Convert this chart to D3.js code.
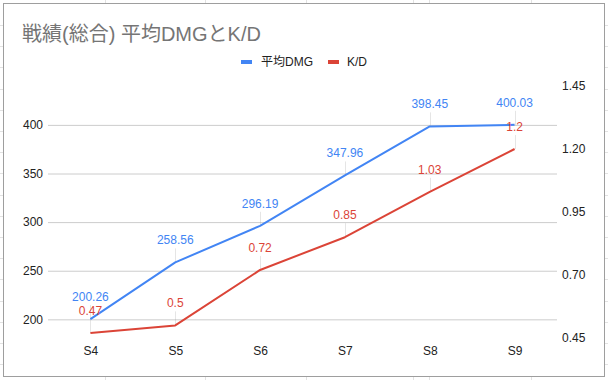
<!DOCTYPE html>
<html><head><meta charset="utf-8">
<script src="https://cdn.jsdelivr.net/npm/d3@7/dist/d3.min.js"></script>
<style>
html,body{margin:0;padding:0;background:#fff;}
svg{display:block;font-family:"Liberation Sans",Arial,"Noto Sans CJK JP",sans-serif;}
</style></head>
<body><svg id="c" width="608" height="380"></svg>
<script>
const title = "戦績(総合) 平均DMGとK/D";
const categories = ["S4","S5","S6","S7","S8","S9"];
const avgDmg = [200.26, 258.56, 296.19, 347.96, 398.45, 400.03];
const kd = [0.47, 0.5, 0.72, 0.85, 1.03, 1.2];
const seriesNames = ["平均DMG", "K/D"];
const leftTicks = [200, 250, 300, 350, 400];
const rightTicks = [0.45, 0.70, 0.95, 1.20, 1.45];
const colors = ["#4285f4", "#db4437"];

const FONT = '"Liberation Sans",Arial,"Noto Sans CJK JP",sans-serif';
const svg = d3.select("#c");
const W = 608, H = 380;
const plot = {l: 48, r: 557, t: 86, b: 338};

// spreadsheet background grid outside the chart
const bg = svg.append("g").attr("stroke", "#e2e2e2").attr("stroke-width", 1);
[105, 205, 306, 413, 429, 531].forEach(x => {
  bg.append("line").attr("x1", x + .5).attr("x2", x + .5).attr("y1", 0).attr("y2", 3);
  bg.append("line").attr("x1", x + .5).attr("x2", x + .5).attr("y1", 377).attr("y2", H);
});
d3.range(25, 376, 21.2).forEach(y => {
  bg.append("line").attr("x1", 0).attr("x2", 3).attr("y1", Math.round(y) + .5).attr("y2", Math.round(y) + .5);
  bg.append("line").attr("x1", 605).attr("x2", W).attr("y1", Math.round(y) + .5).attr("y2", Math.round(y) + .5);
});
svg.append("rect").attr("x", 3.5).attr("y", 3.5).attr("width", 601).attr("height", 373)
  .attr("fill", "#fff").attr("stroke", "#9e9e9e");

const x = d3.scalePoint().domain(categories).range([plot.l, plot.r]).padding(0.5);
const yL = d3.scaleLinear().domain([180.8, 440]).range([plot.b, plot.t]);
const yR = d3.scaleLinear().domain([0.45, 1.45]).range([plot.b, plot.t]);

// title
svg.append("text").attr("x", 22).attr("y", 41).attr("font-size", 20).attr("fill", "#757575")
  .attr("font-family", FONT)
  .text(title);

// legend
const lg = svg.append("g").attr("font-size", 12).attr("fill", "#222");
const legendPos = [{sx: 241, tx: 261}, {sx: 328, tx: 347}];
seriesNames.forEach((n, i) => {
  lg.append("rect").attr("x", legendPos[i].sx).attr("y", 60).attr("width", 11).attr("height", 4).attr("fill", colors[i]);
  lg.append("text").attr("x", legendPos[i].tx).attr("y", 66).attr("fill", "#222")
    .attr("font-family", FONT).text(n);
});

// gridlines + left axis
const axL = d3.axisLeft(yL).tickValues(leftTicks).tickSize(-(plot.r - plot.l)).tickPadding(5).tickFormat(d3.format("d"));
const gL = svg.append("g").attr("transform", `translate(${plot.l},0)`).call(axL);
gL.select(".domain").remove();
gL.selectAll(".tick line").attr("stroke", "#cccccc");
gL.selectAll(".tick text").attr("font-size", 12).attr("fill", "#222").attr("font-family", FONT);

// right axis (labels only)
const axR = d3.axisRight(yR).tickValues(rightTicks).tickSize(0).tickPadding(5).tickFormat(d3.format(".2f"));
const gR = svg.append("g").attr("transform", `translate(${plot.r},0)`).call(axR);
gR.select(".domain").remove();
gR.selectAll(".tick text").attr("font-size", 12).attr("fill", "#222").attr("font-family", FONT);

// x axis labels
const axB = d3.axisBottom(x).tickSize(0).tickPadding(8);
const gB = svg.append("g").attr("transform", `translate(0,${plot.b})`).call(axB);
gB.select(".domain").remove();
gB.selectAll(".tick text").attr("font-size", 12).attr("fill", "#222").attr("font-family", FONT);

const series = [
  {vals: avgDmg, y: yL, fmt: v => String(v)},
  {vals: kd, y: yR, fmt: v => String(v)}
];

// stems
series.forEach((s, i) => {
  svg.append("g").selectAll("line").data(s.vals).join("line")
    .attr("x1", (d, j) => Math.round(x(categories[j])) + .5)
    .attr("x2", (d, j) => Math.round(x(categories[j])) + .5)
    .attr("y1", d => s.y(d))
    .attr("y2", d => s.y(d) - 14)
    .attr("stroke", "#999").attr("stroke-opacity", 0.25);
});

// lines
series.forEach((s, i) => {
  const line = d3.line().x((d, j) => x(categories[j])).y(d => s.y(d));
  svg.append("path").datum(s.vals).attr("d", line).attr("fill", "none")
    .attr("stroke", colors[i]).attr("stroke-width", 2).attr("stroke-linejoin", "round");
});

// labels
series.forEach((s, i) => {
  svg.append("g").selectAll("text").data(s.vals).join("text")
    .attr("x", (d, j) => x(categories[j]))
    .attr("y", d => s.y(d) - 18)
    .attr("text-anchor", "middle").attr("font-size", 12)
    .attr("font-family", FONT)
    .attr("fill", colors[i])
    .text(d => s.fmt(d));
});
</script></body></html>
